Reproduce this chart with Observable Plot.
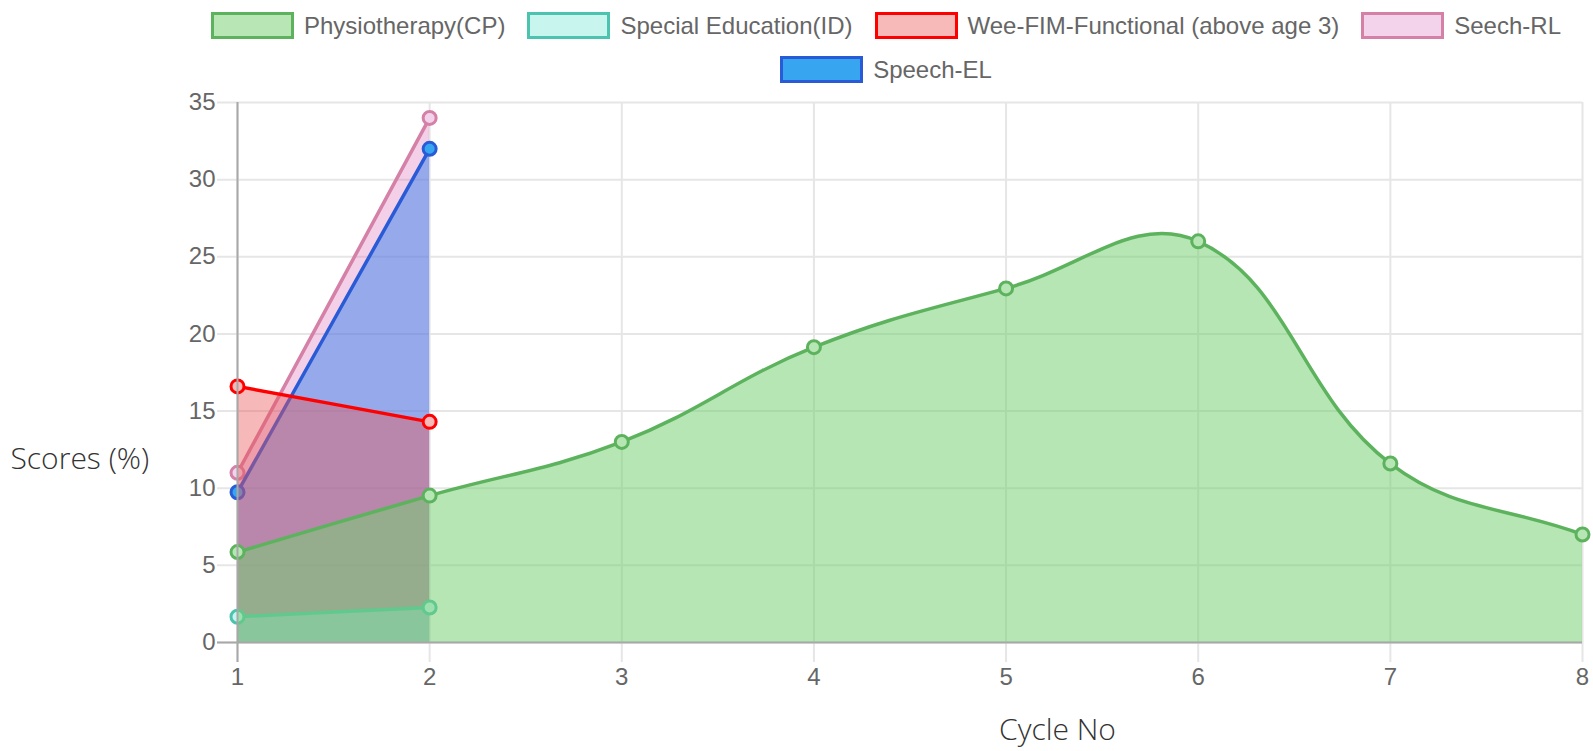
<!DOCTYPE html>
<html>
<head>
<meta charset="utf-8">
<script src="https://cdn.jsdelivr.net/npm/d3@7"></script>
<script src="https://cdn.jsdelivr.net/npm/@observablehq/plot@0.6"></script>
<style>
  html, body { margin: 0; padding: 0; background: #fff; }
  #wrap { width: 1593px; height: 751px; position: relative; overflow: hidden; }
  #legend { height: 90px; position: relative; }
  #legend .rows { position: absolute; left: 179px; width: 1414px; top: 12px;
    display: flex; flex-wrap: wrap; justify-content: center; column-gap: 22px; row-gap: 17px; }
  #legend .item { display: flex; align-items: center; height: 27px; }
  #legend .box { width: 83px; height: 27px; border: 3px solid; box-sizing: border-box; margin-right: 10px; }
  #legend .lbl { font: 24px "Liberation Sans", Arial, sans-serif; color: #666; line-height: 27px; white-space: nowrap; }
  svg { display: block; }
</style>
</head>
<body>
<div id="wrap">
  <div id="legend"><div class="rows"></div></div>
  <div id="chart"></div>
</div>
<script>
// ---- data ----
const cycles = [1, 2, 3, 4, 5, 6, 7, 8];
const yTicks = [0, 5, 10, 15, 20, 25, 30, 35];
const seriesNames = ["Physiotherapy(CP)", "Special Education(ID)", "Wee-FIM-Functional (above age 3)", "Seech-RL", "Speech-EL"];
const physiotherapy = [5.86, 9.52, 13.0, 19.14, 22.95, 26.0, 11.6, 7.0];
const specialEducation = [1.67, 2.27];
const weeFim = [16.6, 14.3];
const seechRL = [11.0, 34.0];
const speechEL = [9.74, 32.0];
const xLabel = "Cycle No";
const yLabel = "Scores (%)";

// ---- styles ----
const styles = {
  "Physiotherapy(CP)": {stroke: "#5db35d", area: "rgb(117,207,113)", areaOp: 0.52, point: "#b7e6b5", legend: "#b8e6b5"},
  "Special Education(ID)": {stroke: "#4cc3ae", area: "rgb(133,241,230)", areaOp: 0.5, point: "#c6f4ee", legend: "#c8f5ee"},
  "Wee-FIM-Functional (above age 3)": {stroke: "#ff0000", area: "rgb(233,86,86)", areaOp: 0.42, point: "#f8b9b9", legend: "#f8b9b9"},
  "Seech-RL": {stroke: "#d580a6", area: "rgb(215,98,178)", areaOp: 0.3, point: "#f3d2eb", legend: "#f3d2eb"},
  "Speech-EL": {stroke: "#2a5bd7", area: "rgb(57,132,238)", areaOp: 0.5, point: "#37a5f0", legend: "#37a5f0"}
};
const values = {
  "Physiotherapy(CP)": physiotherapy,
  "Special Education(ID)": specialEducation,
  "Wee-FIM-Functional (above age 3)": weeFim,
  "Seech-RL": seechRL,
  "Speech-EL": speechEL
};

// legend
const rows = document.querySelector("#legend .rows");
for (const name of seriesNames) {
  const s = styles[name];
  const item = document.createElement("div"); item.className = "item";
  const box = document.createElement("div"); box.className = "box";
  box.style.background = s.legend; box.style.borderColor = s.stroke;
  const lbl = document.createElement("span"); lbl.className = "lbl"; lbl.textContent = name;
  item.append(box, lbl); rows.append(item);
}

// Chart.js-like cubic interpolation (tension 0.4)
function ChartJsCurve(context) { this._context = context; }
ChartJsCurve.prototype = {
  areaStart() { this._line = 0; },
  areaEnd() { this._line = NaN; },
  lineStart() { this._pts = []; },
  lineEnd() {
    const c = this._context, p = this._pts, n = p.length, t = 0.4;
    if (n) {
      if (this._line) c.lineTo(p[0][0], p[0][1]); else c.moveTo(p[0][0], p[0][1]);
      const cps = p.map((cur, i) => {
        const prev = p[i - 1] || cur, next = p[i + 1] || cur;
        const d01 = Math.hypot(cur[0] - prev[0], cur[1] - prev[1]);
        const d12 = Math.hypot(next[0] - cur[0], next[1] - cur[1]);
        let s01 = d01 / (d01 + d12), s12 = d12 / (d01 + d12);
        if (isNaN(s01)) s01 = 0; if (isNaN(s12)) s12 = 0;
        const fa = t * s01, fb = t * s12;
        return {
          px: cur[0] - fa * (next[0] - prev[0]), py: cur[1] - fa * (next[1] - prev[1]),
          nx: cur[0] + fb * (next[0] - prev[0]), ny: cur[1] + fb * (next[1] - prev[1])
        };
      });
      for (let i = 1; i < n; i++) c.bezierCurveTo(cps[i - 1].nx, cps[i - 1].ny, cps[i].px, cps[i].py, p[i][0], p[i][1]);
    }
    if (this._line || (this._line !== 0 && n === 1)) c.closePath();
    this._line = 1 - this._line;
  },
  point(x, y) { this._pts.push([+x, +y]); }
};
const chartjsCurve = (ctx) => new ChartJsCurve(ctx);

// draw order bottom -> top
const drawOrder = ["Seech-RL", "Speech-EL", "Wee-FIM-Functional (above age 3)", "Special Education(ID)", "Physiotherapy(CP)"];
const seriesMarks = [];
for (const name of drawOrder) {
  const s = styles[name];
  const data = values[name].map((v, i) => ({x: cycles[i], y: v}));
  seriesMarks.push(
    Plot.areaY(data, {x: "x", y: "y", curve: chartjsCurve, fill: s.area, fillOpacity: s.areaOp}),
    Plot.line(data, {x: "x", y: "y", curve: chartjsCurve, stroke: s.stroke, strokeWidth: 3.5}),
    Plot.dot(data, {x: "x", y: "y", r: 6.5, fill: s.point, stroke: s.stroke, strokeWidth: 3})
  );
}

const chart = Plot.plot({
  width: 1593,
  height: 661,
  marginTop: 12,
  marginLeft: 237,
  marginRight: 11,
  marginBottom: 109,
  x: {domain: [1, 8], ticks: cycles},
  y: {domain: [0, 35], ticks: yTicks},
  style: {fontFamily: "'Liberation Sans', Arial, sans-serif", fontSize: "24px", color: "#666", background: "#fff", overflow: "visible"},
  marks: [
    Plot.ruleX(cycles, {stroke: "#e6e6e6", strokeWidth: 2, insetBottom: -20}),
    Plot.ruleY(yTicks, {stroke: "#e6e6e6", strokeWidth: 2, insetLeft: -20}),
    ...seriesMarks,
    Plot.ruleX([cycles[0]], {stroke: "#a8a8a8", strokeWidth: 2, insetBottom: -20}),
    Plot.ruleY([0], {stroke: "#a8a8a8", strokeWidth: 2, insetLeft: -20}),
    Plot.axisX({ticks: cycles, tickSize: 0, tickPadding: 25, tickFormat: d => String(d), label: null}),
    Plot.axisY({ticks: yTicks, tickSize: 0, tickPadding: 22, tickFormat: d => String(d), label: null}),
    Plot.text([yLabel], {frameAnchor: "left", text: d => d, dx: -227, dy: 87, textAnchor: "start", lineAnchor: "middle",
      fontSize: 30, fontFamily: "'Open Sans', sans-serif", fontWeight: 300, fill: "#333"}),
    Plot.text([xLabel], {frameAnchor: "bottom", text: d => d, dx: 147.5, dy: 88, textAnchor: "middle", lineAnchor: "middle",
      fontSize: 30, fontFamily: "'Open Sans', sans-serif", fontWeight: 300, fill: "#333"})
  ]
});
document.getElementById("chart").append(chart);
</script>
</body>
</html>
